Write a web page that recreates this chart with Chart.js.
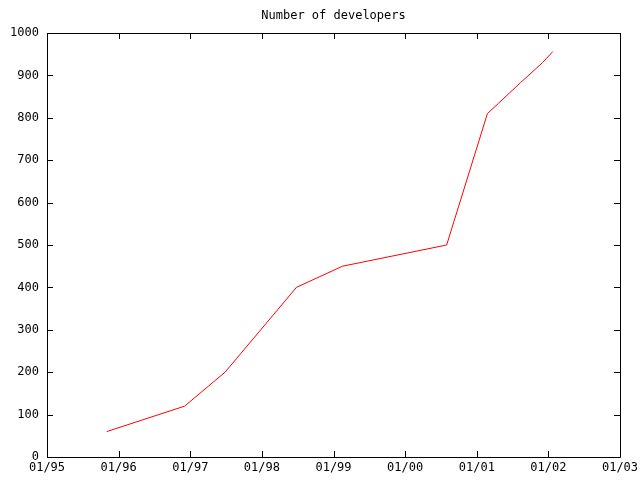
<!DOCTYPE html>
<html>
<head>
<meta charset="utf-8">
<title>Number of developers</title>
<script src="https://cdn.jsdelivr.net/npm/chart.js@4"></script>
<style>
  html, body { margin: 0; padding: 0; background: #fff; }
  canvas { display: block; }
</style>
</head>
<body>
<canvas id="devChart" width="640" height="480"></canvas>
<script>
// Data.
var DATES = ['1995-11-02', '1996-12-03', '1997-06-27', '1998-06-26', '1999-02-16',
             '2000-07-31', '2001-02-24', '2001-04-21', '2001-08-12', '2001-12-02', '2002-01-23'];
var DEVELOPERS = [60, 120, 200, 400, 450, 500, 810, 834, 883, 930, 956];
var YEAR_TICKS = [1995, 1996, 1997, 1998, 1999, 2000, 2001, 2002, 2003];
var Y_TICKS = [0, 100, 200, 300, 400, 500, 600, 700, 800, 900, 1000];
var TITLE = 'Number of developers';

var FONT = "'DejaVu Sans Mono', 'Liberation Mono', monospace";

function toTime(s) {
  var p = s.split('-');
  return Date.UTC(+p[0], +p[1] - 1, +p[2]);
}

// gnuplot-style frame: full border, inward ticks mirrored on all sides, title over the plot.
var framePlugin = {
  id: 'frame',
  afterDraw: function (chart) {
    var ctx = chart.ctx;
    var a = chart.chartArea;
    var xs = chart.scales.x;
    var ys = chart.scales.y;
    var len = 6;
    ctx.save();
    ctx.strokeStyle = '#000';
    ctx.lineWidth = 1;
    ctx.beginPath();
    ctx.rect(Math.round(a.left) + 0.5, Math.round(a.top) + 0.5,
             Math.round(a.right - a.left), Math.round(a.bottom - a.top));
    xs.ticks.forEach(function (t) {
      var x = Math.round(xs.getPixelForValue(t.value)) + 0.5;
      ctx.moveTo(x, a.bottom); ctx.lineTo(x, a.bottom - len);
      ctx.moveTo(x, a.top); ctx.lineTo(x, a.top + len);
    });
    ys.ticks.forEach(function (t) {
      var y = Math.round(ys.getPixelForValue(t.value)) + 0.5;
      ctx.moveTo(a.left, y); ctx.lineTo(a.left + len, y);
      ctx.moveTo(a.right, y); ctx.lineTo(a.right - len, y);
    });
    ctx.stroke();

    ctx.fillStyle = '#000';
    ctx.font = '12px ' + FONT;
    ctx.textAlign = 'center';
    ctx.textBaseline = 'middle';
    ctx.fillText(TITLE, (a.left + a.right) / 2, 16);
    ctx.restore();
  }
};

new Chart(document.getElementById('devChart'), {
  type: 'line',
  data: {
    datasets: [{
      label: TITLE,
      data: DATES.map(function (d, i) { return { x: toTime(d), y: DEVELOPERS[i] }; }),
      borderColor: '#ff0000',
      borderWidth: 1,
      pointRadius: 0,
      tension: 0,
      fill: false
    }]
  },
  options: {
    responsive: false,
    animation: false,
    devicePixelRatio: 1,
    layout: { padding: { top: 33, right: 20, left: 0, bottom: 0 } },
    plugins: {
      legend: { display: false },
      title: { display: false },
      tooltip: { enabled: false }
    },
    scales: {
      x: {
        type: 'linear',
        min: Date.UTC(1995, 0, 1),
        max: Date.UTC(2003, 0, 1),
        afterBuildTicks: function (scale) {
          scale.ticks = YEAR_TICKS.map(function (yr) { return { value: Date.UTC(yr, 0, 1) }; });
        },
        afterFit: function (scale) {
          scale.height = 23;
          scale.paddingLeft = 0;
          scale.paddingRight = 0;
        },
        grid: { display: false, drawTicks: false },
        border: { display: false },
        ticks: {
          autoSkip: false,
          maxRotation: 0,
          padding: 4,
          color: '#000',
          font: { family: FONT, size: 12 },
          callback: function (v) {
            return '01/' + String(new Date(v).getUTCFullYear()).slice(2);
          }
        }
      },
      y: {
        min: 0,
        max: 1000,
        afterBuildTicks: function (scale) {
          scale.ticks = Y_TICKS.map(function (v) { return { value: v }; });
        },
        afterFit: function (scale) {
          scale.width = 47;
          scale.paddingTop = 0;
          scale.paddingBottom = 0;
        },
        grid: { display: false, drawTicks: false },
        border: { display: false },
        ticks: {
          padding: 8,
          color: '#000',
          font: { family: FONT, size: 12 },
          callback: function (v) { return String(v); }
        }
      }
    }
  },
  plugins: [framePlugin]
});
</script>
</body>
</html>
